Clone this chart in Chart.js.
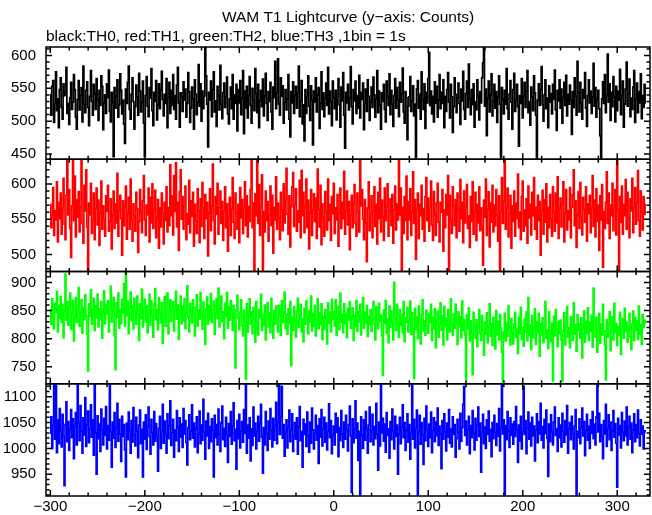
<!DOCTYPE html>
<html><head><meta charset="utf-8">
<script src="https://cdn.jsdelivr.net/npm/chart.js@4.4.1/dist/chart.umd.min.js"></script>
<style>html,body{margin:0;padding:0;background:#fff}#wrap{width:652px;height:515px;position:relative}</style>
</head><body><div id="wrap"><canvas id="c" width="652" height="515"></canvas></div>
<script>
// ---- data ----
const binStartSeconds = -300;
const binWidthSeconds = 1;
const titleText = 'WAM T1 Lightcurve (y\u2212axis: Counts)';
const subtitleText = 'black:TH0, red:TH1, green:TH2, blue:TH3 ,1bin = 1s';
const xTickLabels = [-300, -200, -100, 0, 100, 200, 300];
const yTickLabelsTH0 = [450, 500, 550, 600];
const yTickLabelsTH1 = [500, 550, 600];
const yTickLabelsTH2 = [750, 800, 850, 900];
const yTickLabelsTH3 = [950, 1000, 1050, 1100];

const countsTH0 = [
541,509,553,562,498,527,575,516,534,490,
548,566,521,503,557,539,544,582,512,527,
495,536,559,518,529,571,548,506,488,533,
562,517,540,551,499,584,526,513,547,560,
521,493,538,577,530,509,556,542,518,565,
533,501,547,524,569,553,487,528,540,512,
557,536,578,515,499,544,529,446,551,520,
538,563,506,525,572,547,511,532,496,466,
549,527,559,584,518,503,541,566,530,488,
522,555,537,509,573,546,514,529,561,497,
446,539,568,523,507,551,535,580,516,493,
544,530,562,502,525,557,519,548,576,533,
508,541,527,565,490,536,559,512,547,524,
571,518,539,503,555,582,528,491,543,537,
515,560,532,549,506,527,574,545,498,520,
552,534,488,563,541,510,529,586,523,557,
500,546,519,538,612,569,526,461,544,532,
561,507,548,575,514,531,492,553,539,517,
585,526,504,543,558,521,537,567,511,496,
534,552,519,571,503,540,527,556,485,548,
528,562,510,535,577,481,546,520,553,505,
539,568,524,497,550,533,516,580,542,513,
556,490,531,547,522,564,508,539,573,527,
501,545,530,559,514,488,552,536,591,519,
543,595,526,509,566,538,554,497,529,548,
517,534,571,503,476,545,528,560,512,539,
553,520,542,584,507,531,562,496,525,470,
548,512,537,569,523,501,554,532,464,546,
529,566,514,540,551,489,527,575,518,543,
507,535,558,524,582,511,546,530,493,561,
536,519,547,502,538,565,525,491,552,531,
574,509,459,544,528,556,517,535,583,522,
496,548,531,561,512,539,520,570,505,544,
533,558,487,527,549,515,563,538,501,529,
552,521,567,540,506,534,577,513,546,525,
488,543,530,556,518,499,561,537,524,572,
510,547,526,492,539,565,520,551,533,507,
559,529,542,581,514,497,545,536,472,523,
537,568,515,531,554,508,526,444,549,562,
520,541,503,575,533,518,557,489,544,528,
565,605,524,546,511,538,499,560,527,553,
506,532,571,519,544,527,563,490,538,515,
548,574,529,505,556,537,483,522,566,541,
513,536,558,527,495,549,531,576,518,503,
542,561,521,587,534,510,548,525,557,491,
530,517,563,539,502,545,528,566,589,612,
523,549,478,535,561,514,540,572,508,531,
556,520,545,498,537,569,526,444,551,534,
511,547,526,580,519,503,541,562,529,488,
548,573,515,533,556,522,462,539,527,565,
505,538,559,521,546,577,513,530,494,552,
537,516,569,543,509,444,532,557,524,548,
583,525,500,540,563,519,535,490,554,529,
542,511,556,533,578,517,486,547,531,563,
520,549,497,536,559,524,570,508,541,526,
555,532,480,545,521,566,538,509,591,543,
514,559,527,503,548,535,574,520,492,539,
563,528,546,512,537,588,523,551,506,533,
547,519,478,444,534,560,527,571,513,540,
602,529,557,501,544,522,568,537,499,553,
516,546,532,579,510,538,561,491,526,549,
590,523,541,564,507,535,518,552,577,498,
534,558,513,545,528,572,504,539,521,556,
527];

const countsTH1 = [
571,538,556,595,527,562,549,603,518,574,
551,587,529,566,608,543,521,584,635,556,
592,537,496,569,635,548,611,525,578,553,
589,532,567,635,544,516,598,562,620,539,
478,573,556,601,530,548,587,521,565,594,
542,577,513,559,604,536,569,550,526,583,
561,598,533,547,579,508,556,590,537,572,
545,615,526,563,584,551,499,576,541,568,
597,522,558,581,536,607,549,519,572,555,
533,588,565,503,547,592,560,531,576,612,
549,527,570,556,594,518,581,545,600,537,
563,591,524,552,578,509,566,539,587,558,
515,574,548,596,532,567,541,627,555,583,
528,612,561,630,539,574,506,589,620,550,
582,536,569,597,521,558,543,605,531,576,
554,588,512,571,547,530,593,562,517,579,
540,602,566,523,585,551,574,498,559,593,
534,569,628,548,515,582,557,601,529,566,
590,544,575,520,561,596,538,572,505,553,
581,527,564,609,546,523,587,559,536,571,
517,595,552,578,530,566,603,541,583,525,
568,547,592,635,538,573,478,586,555,635,
544,599,527,569,613,478,561,532,590,548,
575,519,556,597,541,584,502,567,549,610,
536,573,552,521,588,563,534,600,545,577,
622,557,529,583,511,568,596,616,540,571,
593,533,562,546,605,524,619,555,588,531,
569,607,538,577,508,559,592,527,563,586,
547,580,523,621,564,539,598,514,572,553,
526,589,561,535,607,548,571,520,582,558,
601,530,566,549,585,512,559,594,537,574,
551,618,529,563,590,542,575,507,556,584,
538,572,599,544,526,587,561,532,635,569,
592,550,521,578,545,490,566,603,534,557,
583,524,561,596,540,571,515,588,551,608,
532,577,553,520,594,548,567,600,526,562,
579,541,585,516,563,597,535,572,549,635,
556,594,478,567,530,582,548,611,521,575,
549,593,527,560,617,544,578,493,564,587,
523,571,555,598,536,565,519,582,609,548,
580,533,566,604,542,520,589,557,527,573,
601,546,518,574,560,592,505,563,538,585,
556,612,478,584,548,530,596,569,541,578,
524,587,563,533,606,551,574,517,590,545,
568,599,537,555,510,582,547,603,529,561,
588,520,571,545,596,534,566,540,485,577,
553,607,527,564,589,511,573,546,598,532,
570,541,592,556,519,583,478,561,609,544,
575,635,536,566,594,525,557,584,509,569,
547,590,526,573,551,614,538,560,521,582,
604,533,563,541,579,516,597,552,571,528,
588,555,609,536,567,522,584,548,575,499,
562,591,529,578,546,600,518,567,538,585,
551,526,596,560,533,587,545,610,523,566,
580,539,571,603,518,558,592,535,562,549,
595,524,567,585,620,541,576,510,557,589,
537,602,553,528,581,564,546,596,519,572,
558,584,531,566,612,540,577,525,593,547,
570,506,583,549,599,482,561,537,574,617,
544,587,523,570,555,601,534,566,592,528,
635,563,478,582,546,597,529,571,555,606,
536,588,551,524,579,562,608,531,567,595,
543,574,619,548,526,590,560,535,582,557,
572];

const countsTH2 = [
852,826,871,839,818,863,847,884,812,858,
836,875,829,861,802,849,915,833,866,824,
857,881,817,845,868,796,838,873,829,854,
891,822,847,869,810,856,834,878,841,808,
743,862,840,887,826,851,872,815,859,837,
879,821,853,834,866,801,848,885,827,861,
844,868,812,857,893,830,849,873,805,745,
864,838,881,819,852,827,870,846,898,823,
918,841,867,809,855,883,832,859,818,872,
849,826,876,843,797,862,836,888,821,854,
870,830,858,811,845,879,824,867,840,803,
861,889,834,852,816,873,845,828,864,792,
838,875,822,856,881,809,847,869,831,853,
866,814,850,884,835,860,799,842,876,827,
857,832,871,818,846,894,838,812,863,849,
828,869,841,805,856,878,823,851,835,882,
843,817,865,839,790,853,874,826,859,834,
880,829,851,867,808,845,871,836,890,821,
854,876,831,848,800,863,839,882,819,857,
833,868,847,815,859,826,748,852,877,836,
816,847,869,823,805,851,830,728,862,812,
841,871,826,848,809,856,835,794,866,829,
807,852,838,879,815,843,824,860,798,837,
864,821,846,811,872,832,801,850,826,858,
835,812,859,842,806,868,829,847,883,818,
844,808,853,827,866,752,838,815,857,831,
803,849,872,820,841,861,812,836,795,854,
826,867,838,809,850,830,876,814,845,822,
859,805,833,871,818,846,825,862,799,840,
817,852,836,791,864,828,847,812,870,834,
848,823,869,806,839,857,816,881,829,843,
811,862,827,845,802,854,833,866,819,838,
855,797,841,822,868,813,849,830,861,807,
836,873,819,847,828,859,804,840,825,852,
813,845,866,826,798,857,834,818,863,831,
842,805,735,851,827,868,810,836,793,858,
820,849,831,798,900,839,815,861,826,803,
852,824,843,811,866,795,837,829,856,812,
835,867,808,846,821,729,854,817,839,800,
858,826,791,843,869,814,832,806,851,823,
810,845,829,861,797,838,818,853,784,833,
849,803,826,864,815,841,789,857,822,836,
798,852,830,812,871,825,806,844,819,861,
828,790,848,821,839,802,867,815,834,807,
728,843,818,855,796,832,809,736,847,820,
801,834,786,823,852,810,797,841,815,771,
829,808,846,793,820,862,804,827,788,838,
815,782,850,807,831,798,843,819,776,723,
812,845,796,828,804,859,821,789,836,810,
791,826,847,803,817,774,838,809,856,799,
820,787,835,812,848,796,873,806,824,781,
841,802,819,853,790,830,811,845,769,827,
806,837,793,822,866,801,816,783,848,812,
795,828,725,840,805,852,818,786,831,809,
833,798,724,815,846,789,827,857,803,820,
784,839,812,797,864,808,825,778,843,815,
826,801,837,766,818,849,794,831,810,855,
797,829,813,842,785,890,820,803,838,776,
817,845,792,826,807,861,814,789,727,834,
803,826,848,779,815,839,798,863,811,827,
788,822,806,847,772,819,836,801,854,813,
829,794,817,845,803,781,826,849,797,838,
815,832,799,858,808,825,790,843,820,833,
827];

const countsTH3 = [
1029,1061,1000,1044,1125,1018,1125,992,1055,1009,
1077,1035,1003,1066,1024,928,1046,1090,1013,1052,
996,1037,1075,1021,1057,980,1042,1069,1007,1125,
1050,1015,1083,1033,991,1059,1026,1098,1004,1045,
1072,1011,1038,1084,1022,1055,987,1125,1030,950,
1063,1019,1047,994,1076,1036,1007,1058,1025,1081,
999,1044,1016,1125,1032,964,1051,1020,1069,1002,
1040,1087,1014,1056,1028,975,1062,1023,1046,997,
945,1049,1017,1070,1035,991,1054,1012,1079,1026,
1005,1060,1033,982,1045,1074,1009,1037,945,1051,
1018,1065,998,1042,1080,1023,989,1056,1031,1007,
1071,1014,1048,1025,956,1039,1062,1000,1034,1085,
1010,1053,1027,991,1067,1019,1044,1092,1006,1030,
1056,983,1036,1015,1073,1041,994,1059,1022,1047,
1002,1077,1028,1054,1011,968,1040,1065,1017,1033,
1084,1020,1049,1003,1038,1061,992,1027,1072,1009,
1045,1016,1095,1031,979,1053,1024,1068,1000,1042,
1013,1057,1035,945,1064,1021,1046,1007,1076,1028,
994,1050,1082,1017,1039,1004,1060,1026,973,1048,
1023,1071,1008,1043,1088,1015,1037,960,1054,1019,
1066,1001,1034,1052,1012,1075,1029,1125,991,1045,
1020,1059,976,1038,1006,1080,1024,1049,999,1033,
1062,1014,1047,1085,1022,952,1040,1007,1071,1028,
996,1053,1018,1077,1035,1003,1058,1016,1044,1089,
1009,1051,1125,1027,1062,1120,1020,1046,985,1032,
1055,1001,1040,1074,1013,1036,1067,994,1023,1050,
1018,1059,989,1042,1081,1015,1033,964,1056,1027,
1047,1004,1070,1025,993,1051,1010,1078,1036,999,
1029,1064,1016,1044,971,1057,1022,1075,1005,1038,
1060,1012,1049,997,1033,1086,1021,1054,990,1025,
1043,1007,1068,1031,1059,984,1040,1015,1073,1028,
1002,1051,1018,1064,1036,995,1046,1082,1024,915,
1057,1011,1038,1092,1020,1049,977,1033,909,1061,
1026,1000,1055,1016,1071,1037,991,1045,1080,1013,
1034,1066,1007,1042,1019,1087,1028,958,1051,1005,
1125,1030,1058,1014,1047,993,1069,1025,1038,981,
1052,1017,1076,1034,999,1062,1023,1045,950,1028,
1060,1009,1041,1084,1021,1050,996,1035,1067,1012,
1046,979,1029,1125,1018,1056,1001,1039,1074,909,
1033,1064,1008,1050,1026,969,1058,1015,1082,1037,
1004,1047,1021,1070,992,1035,1059,1013,1051,1024,
1078,1006,1043,1028,961,1054,1018,1067,1032,995,
1049,1022,1075,1010,1038,1003,1061,1027,1046,983,
1019,1056,1031,999,1068,1014,1040,1085,1120,1025,
1053,1007,1036,1062,990,1044,1021,1073,1029,997,
1058,1016,1045,1080,1023,1049,954,1032,1066,1009,
1041,1000,1055,1027,1072,1014,1037,984,1050,1019,
1064,1031,1006,1048,1023,1077,995,1040,1125,1028,
1055,909,1044,1017,1071,1034,1002,1059,1025,1047,
1008,1052,1023,1081,1036,973,1045,1014,1062,999,
1033,1120,1027,1054,990,1039,1070,1018,1049,1005,
1060,1024,1043,976,1035,1067,1011,1052,1028,1087,
1016,1042,1001,1056,1029,1074,1020,946,1047,1013,
1065,1032,1007,1051,1080,1025,1038,994,1059,1021,
1045,1003,1068,1034,1012,1054,1026,1083,991,1037,
1050,1017,1062,1028,999,1043,1075,909,1033,1021,
1057,1009,1040,1078,1024,1052,986,1035,1066,1016,
1043,1000,1055,1029,1071,1019,1047,1007,1061,1125,
1032,1068,1013,1046,1023,980,1054,1028,1085,1004,
1039,1065,1017,1051,996,1034,1073,1022,1048,1010,
925,1058,1026,1044,1001,1069,1032,1015,1053,1024,
1080,1007,1041,1062,1018,1049,992,1036,1067,1013,
1046,1021,1074,1029,1005,1055,1027,1043,999,1034,
1031];

// ---- chart ----
const binTimes = countsTH0.map((_, i) => binStartSeconds + i * binWidthSeconds);
const toPoints = arr => arr.map((v, i) => ({x: binTimes[i], y: v}));
const fontFamily = "'Liberation Sans', Arial, Helvetica, sans-serif";
const tickFont = {family: fontFamily, size: 15};
const fmt = v => v < 0 ? '\u2212' + Math.abs(v) : String(v);

function yAxis(min, max, weight, labels) {
  return {
    type: 'linear', position: 'left', stack: 'panels', stackWeight: 1, weight,
    min, max, offset: false,
    grid: {display: false, drawTicks: false},
    border: {display: false},
    ticks: {stepSize: 10, autoSkip: false, includeBounds: false, padding: 10, color: '#000', font: tickFont,
      callback: v => labels.includes(v) ? fmt(v) : ''},
    afterFit: s => { s.width = 46; }
  };
}

function ds(label, arr, color, axis) {
  return {label, data: toPoints(arr), borderColor: color, backgroundColor: color,
    borderWidth: 1.7, pointRadius: 0, pointHoverRadius: 0, fill: false, tension: 0,
    stepped: 'middle', xAxisID: 'x', yAxisID: axis};
}

const framePlugin = {
  id: 'panelFrames',
  afterDatasetsDraw(chart) {
    const ctx = chart.ctx, xs = chart.scales.x;
    ctx.save();
    ctx.strokeStyle = '#000';
    ctx.lineWidth = 1.5;
    for (const id of ['y0', 'y1', 'y2', 'y3']) {
      const ys = chart.scales[id];
      ctx.strokeRect(xs.left, ys.top, xs.right - xs.left, ys.bottom - ys.top);
      ctx.beginPath();
      for (const t of ys.ticks) {
        const py = ys.getPixelForValue(t.value);
        const len = t.value % 50 === 0 ? 6 : 3.5;
        ctx.moveTo(xs.left, py); ctx.lineTo(xs.left + len, py);
        ctx.moveTo(xs.right, py); ctx.lineTo(xs.right - len, py);
      }
      for (const t of xs.ticks) {
        const px = xs.getPixelForValue(t.value);
        const len = t.value % 100 === 0 ? 6 : 3.5;
        ctx.moveTo(px, ys.top); ctx.lineTo(px, ys.top + len);
        ctx.moveTo(px, ys.bottom); ctx.lineTo(px, ys.bottom - len);
      }
      ctx.stroke();
    }
    ctx.restore();
  }
};

new Chart(document.getElementById('c'), {
  type: 'line',
  data: {datasets: [
    ds('TH0', countsTH0, '#000000', 'y0'),
    ds('TH1', countsTH1, '#ff0000', 'y1'),
    ds('TH2', countsTH2, '#00ff00', 'y2'),
    ds('TH3', countsTH3, '#0000ff', 'y3')
  ]},
  options: {
    responsive: false, animation: false, devicePixelRatio: 1,
    parsing: false, normalized: true,
    layout: {padding: {top: 0, right: 2, bottom: 0, left: 0}},
    plugins: {
      legend: {display: false}, tooltip: {enabled: false},
      title: {display: true, text: titleText, fullSize: false, align: 'center', color: '#000',
        font: {family: fontFamily, size: 15.5, weight: 'normal'}, padding: {top: 8.5, bottom: 0}},
      subtitle: {display: true, text: subtitleText, fullSize: false, align: 'start', color: '#000',
        font: {family: fontFamily, size: 15.5, weight: 'normal'}, padding: {top: 0, bottom: 1.3}}
    },
    scales: {
      x: {type: 'linear', position: 'bottom', min: -304.6, max: 334.7,
        grid: {display: false, drawTicks: false}, border: {display: false},
        ticks: {stepSize: 20, autoSkip: false, includeBounds: false, maxRotation: 0, padding: 2, color: '#000', font: tickFont,
          callback: v => xTickLabels.includes(v) ? fmt(v) : ''},
        afterFit: s => { s.height = 19; }},
      y0: yAxis(442, 613, 4, yTickLabelsTH0),
      y1: yAxis(476, 635, 3, yTickLabelsTH1),
      y2: yAxis(720, 919.5, 2, yTickLabelsTH2),
      y3: yAxis(908, 1125, 1, yTickLabelsTH3)
    }
  },
  plugins: [framePlugin]
});
</script></body></html>
